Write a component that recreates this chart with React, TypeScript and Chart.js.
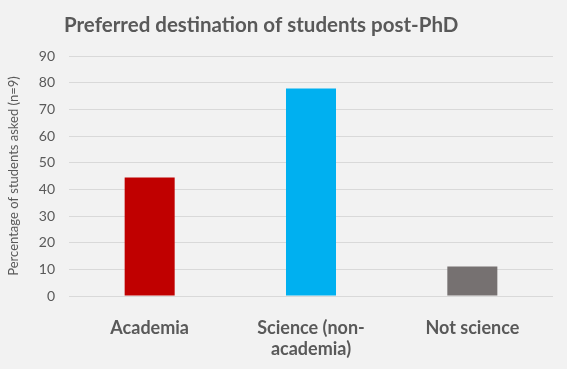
import React, { useEffect, useRef } from "react";
import { Chart, registerables } from "chart.js";

Chart.register(...registerables);

const categories: (string | string[])[] = ["Academia", ["Science (non-", "academia)"], "Not science"];
const values: number[] = [44.4, 77.8, 11.1];
const barColors: string[] = ["#C00000", "#00B0F0", "#767171"];
const titleText = "Preferred destination of students post-PhD";
const yAxisTitle = "Percentage of students asked (n=9)";

const W = 567;
const H = 369;

export default function App() {
  const ref = useRef<HTMLCanvasElement | null>(null);

  useEffect(() => {
    document.body.style.margin = "0";
    document.body.style.background = "#F2F2F2";
    const canvas = ref.current;
    if (!canvas) return;

    const bgPlugin = {
      id: "bg",
      beforeDraw(chart: any) {
        const ctx = chart.ctx;
        ctx.save();
        ctx.fillStyle = "#F2F2F2";
        ctx.fillRect(0, 0, chart.width, chart.height);
        ctx.restore();
      },
      afterDraw(chart: any) {
        const ctx = chart.ctx;
        ctx.save();
        ctx.fillStyle = "#595959";
        ctx.font = "bold 20.5px Lato";
        ctx.textBaseline = "alphabetic";
        ctx.textAlign = "left";
        ctx.fillText(titleText, 64, 32);
        ctx.restore();
      },
    };

    const chart = new Chart(canvas, {
      type: "bar",
      data: {
        labels: categories,
        datasets: [
          {
            data: values,
            backgroundColor: barColors,
            borderWidth: 0,
            barPercentage: 0.31,
            categoryPercentage: 1,
          },
        ],
      },
      options: {
        responsive: false,
        animation: false,
        devicePixelRatio: 1,
        layout: { padding: { top: 56, left: 6, right: 14, bottom: 0 } },
        plugins: {
          legend: { display: false },
          tooltip: { enabled: false },
          title: { display: false },
        },
        scales: {
          x: {
            grid: { display: false },
            border: { display: false },
            ticks: {
              color: "#595959",
              font: { family: "Lato", size: 18, weight: "bold" },
              padding: 13,
              maxRotation: 0,
              autoSkip: false,
            },
            afterFit(scale: any) {
              scale.height = H - 296;
            },
          },
          y: {
            min: 0,
            max: 90,
            ticks: {
              stepSize: 10,
              color: "#595959",
              font: { family: "Lato", size: 14 },
              padding: 14,
            },
            grid: { color: "#D9D9D9", lineWidth: 1, drawTicks: false },
            border: { display: false },
            title: {
              display: true,
              text: yAxisTitle,
              color: "#595959",
              font: { family: "Lato", size: 13 },
              padding: { top: 0, bottom: 4 },
            },
            afterFit(scale: any) {
              scale.width = 63;
            },
          },
        },
      },
      plugins: [bgPlugin],
    });

    return () => chart.destroy();
  }, []);

  return (
    <div style={{ width: W, height: H, background: "#F2F2F2" }}>
      <canvas ref={ref} width={W} height={H} style={{ display: "block", width: W, height: H }} />
    </div>
  );
}
